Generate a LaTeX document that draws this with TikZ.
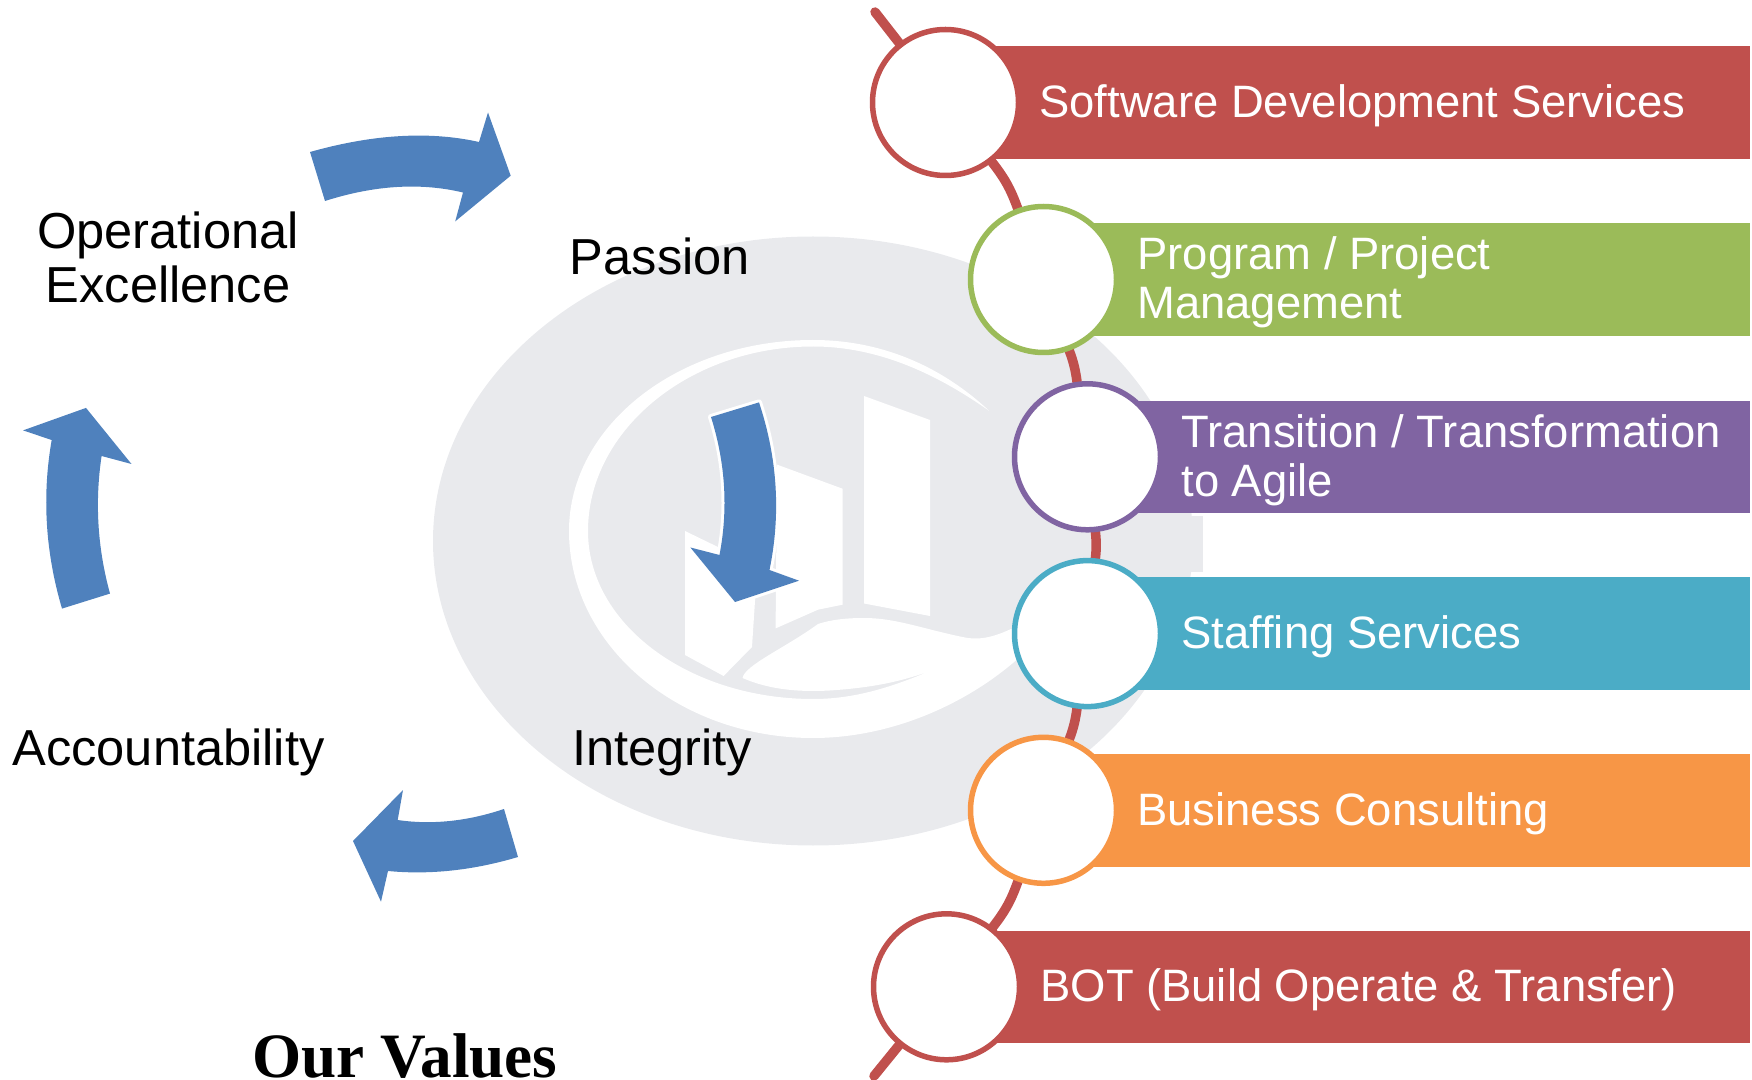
\documentclass[tikz,border=0pt]{standalone}
\usepackage{fontspec}
\setmainfont{Liberation Sans}
\newfontfamily\titlefont{Liberation Serif}
\usetikzlibrary{positioning,backgrounds}
\definecolor{barred}{HTML}{C0504D}
\definecolor{bargreen}{HTML}{9BBB59}
\definecolor{barpurple}{HTML}{8064A2}
\definecolor{barteal}{HTML}{4BACC6}
\definecolor{barorange}{HTML}{F79646}
\definecolor{arrowblue}{HTML}{4F81BD}
\definecolor{logogray}{HTML}{E9EAED}
\tikzstyle{barbox} = [rectangle, minimum height=56.25pt, inner sep=0pt, outer sep=0pt, anchor=west]
\tikzstyle{ringnode} = [circle, fill=white, line width=2.75pt, minimum size=73pt, inner sep=0pt]
\tikzstyle{barlabel} = [white, align=left, inner sep=0pt, font=\fontsize{22.7pt}{24.5pt}\selectfont]
\tikzstyle{valuelabel} = [black, align=center, inner sep=0pt, anchor=base, font=\fontsize{25.3pt}{27pt}\selectfont]
\tikzstyle{spineline} = [barred, line width=4.75pt, line cap=round]
\tikzstyle{bluearrow} = [fill=arrowblue]

\begin{document}
\begin{tikzpicture}[x=0.5pt,y=-0.5pt]
  \useasboundingbox (0,0) rectangle (1752,1080);

  \foreach \id/\cx/\cy/\colr/\txt in {
    a/945.5/102.5/barred/{Software Development Services},
    b/1043.5/279.5/bargreen/{Program / Project\\Management},
    c/1087.5/456.8/barpurple/{Transition / Transformation\\to Agile},
    d/1087.5/633.6/barteal/{Staffing Services},
    e/1043.5/810.3/barorange/{Business Consulting},
    f/946.5/986.8/barred/{BOT (Build Operate \& Transfer)}} {
    \node[barbox, fill=\colr, minimum width={(1750-\cx)*0.5pt}] (bar\id) at (\cx,\cy) {};
    \node[ringnode, draw=\colr] (ring\id) at (bar\id.west) {};
    \node[barlabel, right=46.75pt of ring\id.center, yshift=-1.5pt] (lbl\id) {\txt};
  }

  \coordinate (spinetop) at (875,12);
  \coordinate (spinebot) at (874,1076);

  \begin{pgfonlayer}{background}
    % logo behind everything
    \fill[logogray] (813,541) ellipse [x radius=380, y radius=304.5];
    \fill[logogray] (1120,516.4) rectangle (1203,572.4);
    \fill[white] (989,410.7) .. controls (940,365) and (880,340) .. (813,340)
      .. controls (678,340) and (569,426) .. (569,531)
      .. controls (569,645) and (678,738) .. (813,738)
      .. controls (890,738) and (965,705) .. (1017,659.5)
      -- (1017,626) .. controls (990,640) and (975,640) .. (961,636.7)
      .. controls (920,628) and (895,618) .. (864,618)
      .. controls (845,618) and (830,620) .. (818,624)
      .. controls (785,648) and (745,665) .. (742.5,678)
      .. controls (770,690) and (800,692) .. (828,690.6)
      .. controls (870,688) and (900,682) .. (930,671)
      .. controls (885,690) and (850,699) .. (813,699)
      .. controls (690,699) and (588,625) .. (588,531)
      .. controls (588,430) and (690,346.5) .. (813,346.5)
      .. controls (885,346.5) and (945,380) .. (989,410.7) -- cycle;
    \fill[white] (685,531) -- (755,565) -- (755,601) -- (752,647) -- (723.6,676) -- (685,655) -- cycle;
    \fill[white] (777,464.6) -- (842.5,488.7) -- (842.5,604.7) -- (818,609.7) -- (775.6,628.4) -- cycle;
    \fill[white] (864,396) -- (930,420) -- (930,616) -- (864,603.5) -- cycle;

    \draw[spineline] (spinetop) -- (ringa);
    \foreach \p/\q/\b in {a/b/9,b/c/6,c/d/6,d/e/6,e/f/9} {
      \draw[spineline] (ring\p) to[bend left=\b] (ring\q);
    }
    \draw[spineline] (ringf) -- (spinebot);
  \end{pgfonlayer}

  \fill[bluearrow] (310,152) .. controls (373.7,134) and (430,131) .. (479,142) -- (488,112.5) -- (510.7,175.7)
    -- (455.2,221.4) -- (463,192.5) .. controls (421,182.5) and (375,185) .. (325,201) -- cycle;
  \fill[bluearrow] (62,608.6) .. controls (45.3,552) and (41.9,495.8) .. (51.7,440) -- (23,430.4) -- (86,407.9)
    -- (131.5,464) -- (101.6,456) .. controls (94.7,502) and (97.5,548) .. (110,593.6) -- cycle;
  \fill[bluearrow] (504,809) .. controls (467.3,821.3) and (431.9,825) .. (397.7,820) -- (403,790) -- (353,841)
    -- (381,901.7) -- (388,871) .. controls (430,875) and (473.3,870.3) .. (518,857) -- cycle;
  \path[bluearrow, preaction={draw=white, line width=3pt, line join=round}]
    (759,402.4) .. controls (777.5,458) and (781,514) .. (769.5,570) -- (799,580.7) -- (735,602)
    -- (690.4,547.5) -- (719.5,555) .. controls (728.3,509) and (725.5,463) .. (711,417) -- cycle;

  \node[valuelabel] (excellence) at (168,303) {Operational\\Excellence};
  \node[valuelabel] (passion) at (660,275) {Passion};
  \node[valuelabel] (integrity) at (662,765) {Integrity};
  \node[valuelabel] (accountability) at (168.5,765) {Accountability};
  \node[anchor=base, inner sep=0pt, font=\titlefont\bfseries\fontsize{31.6pt}{33pt}\selectfont] (ourvalues) at (405,1077) {Our Values};
\end{tikzpicture}
\end{document}
